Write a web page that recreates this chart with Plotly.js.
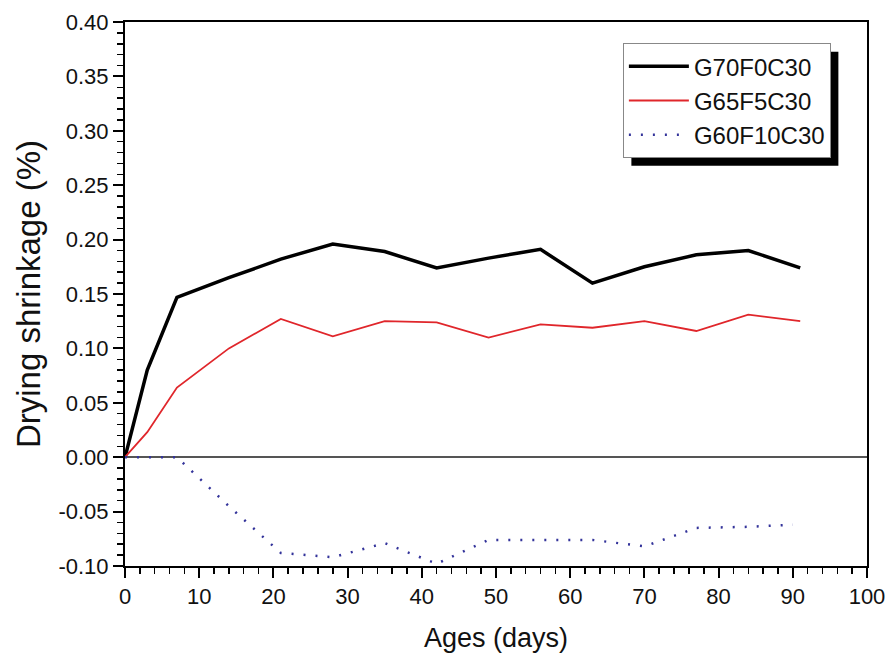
<!DOCTYPE html>
<html>
<head>
<meta charset="utf-8">
<script src="https://cdn.plot.ly/plotly-3.0.1.min.js"></script>
<style>html,body{margin:0;padding:0;background:#fff;}#chart{width:892px;height:657px;}</style>
</head>
<body>
<div id="chart"></div>
<script>
const seriesNames = ["G70F0C30", "G65F5C30", "G60F10C30"];
const agesA = [0, 3, 7, 14, 21, 28, 35, 42, 49, 56, 63, 70, 77, 84, 91];
const g70 = [0, 0.080, 0.147, 0.165, 0.182, 0.196, 0.189, 0.174, 0.183, 0.191, 0.160, 0.175, 0.186, 0.190, 0.174];
const g65 = [0, 0.023, 0.064, 0.100, 0.127, 0.111, 0.125, 0.124, 0.110, 0.122, 0.119, 0.125, 0.116, 0.131, 0.125];
const agesB = [0, 3, 7, 14, 21, 28, 35, 42, 49, 56, 63, 70, 77, 84, 90];
const g60 = [0, 0, 0, -0.045, -0.088, -0.092, -0.079, -0.098, -0.076, -0.076, -0.076, -0.082, -0.065, -0.064, -0.062];
const yTickVals = [-0.10, -0.05, 0.00, 0.05, 0.10, 0.15, 0.20, 0.25, 0.30, 0.35, 0.40];
const yTickText = ["-0.10", "-0.05", "0.00", "0.05", "0.10", "0.15", "0.20", "0.25", "0.30", "0.35", "0.40"];

const traces = [
  {x: agesA, y: g70, name: seriesNames[0], mode: "lines", line: {color: "#000000", width: 3.5}},
  {x: agesA, y: g65, name: seriesNames[1], mode: "lines", line: {color: "#e0262b", width: 1.8}},
  {x: agesB, y: g60, name: seriesNames[2], mode: "lines", line: {color: "#33339a", width: 2.5, dash: "2px,10px"}}
];

const ff = "Liberation Sans, Arial, sans-serif";

const layout = {
  width: 892, height: 657,
  margin: {l: 125, r: 25, t: 22, b: 91},
  paper_bgcolor: "#fff", plot_bgcolor: "#fff",
  font: {family: ff, color: "#111"},
  showlegend: true,
  legend: {
    x: 0.671, y: 0.961, xanchor: "left", yanchor: "top",
    bgcolor: "#fff", bordercolor: "#888", borderwidth: 1,
    font: {family: ff, size: 24, color: "#111"},
    tracegroupgap: 0, itemwidth: 60
  },
  shapes: [],
  xaxis: {
    range: [0, 100], dtick: 10, tick0: 0,
    showgrid: false, zeroline: false,
    showline: true, linecolor: "#000", linewidth: 2, mirror: true,
    ticks: "outside", ticklen: 10, tickwidth: 2, tickcolor: "#000",
    minor: {dtick: 2, ticks: "outside", ticklen: 6, tickwidth: 1.5, tickcolor: "#000"},
    tickfont: {family: ff, size: 22, color: "#111"},
    title: {text: "Ages (days)", font: {family: ff, size: 27, color: "#111"}, standoff: 20}
  },
  yaxis: {
    range: [-0.10, 0.40], tickmode: "array", tickvals: yTickVals, ticktext: yTickText,
    showgrid: false,
    zeroline: true, zerolinecolor: "#555", zerolinewidth: 2,
    showline: true, linecolor: "#000", linewidth: 2, mirror: true,
    ticks: "outside", ticklen: 10, tickwidth: 2, tickcolor: "#000",
    minor: {dtick: 0.01, tick0: 0, ticks: "outside", ticklen: 6, tickwidth: 1.5, tickcolor: "#000"},
    tickfont: {family: ff, size: 22, color: "#111"},
    title: {text: "Drying shrinkage (%)", font: {family: ff, size: 33, color: "#111"}, standoff: 8}
  }
};

Plotly.newPlot("chart", traces, layout, {displayModeBar: false, staticPlot: true}).then(function (gd) {
  const bg = gd.querySelector(".legend .bg");
  if (!bg) return;
  const r = bg.getBoundingClientRect();
  const c = gd.getBoundingClientRect();
  const sz = gd._fullLayout._size;
  const off = 8;
  const toPx = function (px) { return (px - sz.l) / sz.w; };
  const toPy = function (py) { return 1 - (py - sz.t) / sz.h; };
  const x0 = r.left - c.left + off, x1 = r.right - c.left + off;
  const y0 = r.top - c.top + off, y1 = r.bottom - c.top + off;
  Plotly.relayout(gd, {shapes: [{type: "rect", xref: "paper", yref: "paper",
    x0: toPx(x0), x1: toPx(x1), y0: toPy(y1), y1: toPy(y0),
    fillcolor: "#000", line: {width: 0}, layer: "above"}]}).then(function () {
      const leg = gd.querySelector(".legend");
      if (leg && leg.parentNode) { leg.parentNode.appendChild(leg); }
    });
});
</script>
</body>
</html>
